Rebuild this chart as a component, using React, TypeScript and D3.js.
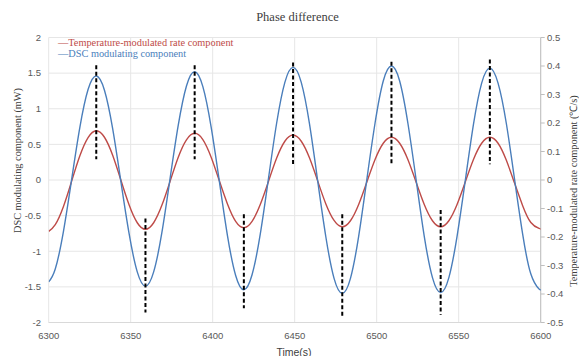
import React from "react";
import * as d3 from "d3";

// Time (s)
const times = [
  6300, 6304, 6309, 6314, 6319, 6324, 6329,
  6334, 6339, 6344, 6349, 6354, 6359,
  6364, 6369, 6374, 6379, 6384, 6389,
  6394, 6399, 6404, 6409, 6414, 6419,
  6424, 6429, 6434, 6439, 6444, 6449,
  6454, 6459, 6464, 6469, 6474, 6479,
  6484, 6489, 6494, 6499, 6504, 6509,
  6514, 6519, 6524, 6529, 6534, 6539,
  6544, 6549, 6554, 6559, 6564, 6569,
  6574, 6579, 6584, 6589, 6594, 6599, 6600,
];

// DSC modulating component (mW), left axis
const dscValues = [
  -1.43, -1.25, -0.72, 0.01, 0.74, 1.27, 1.46,
  1.26, 0.72, -0.02, -0.75, -1.29, -1.49,
  -1.29, -0.74, 0.02, 0.77, 1.32, 1.52,
  1.31, 0.75, -0.01, -0.78, -1.34, -1.54,
  -1.33, -0.76, 0.02, 0.8, 1.37, 1.58,
  1.37, 0.79, -0.01, -0.8, -1.38, -1.59,
  -1.38, -0.79, 0.01, 0.8, 1.39, 1.6,
  1.39, 0.8, 0.01, -0.79, -1.37, -1.58,
  -1.37, -0.79, -0.01, 0.78, 1.36, 1.57,
  1.36, 0.8, 0.02, -0.76, -1.32, -1.53, -1.53,
];

// Temperature-modulated rate component (°C/s), right axis
const rateValues = [
  -0.18, -0.157, -0.093, -0.004, 0.085, 0.149, 0.173,
  0.15, 0.087, 0.0, -0.087, -0.15, -0.173,
  -0.15, -0.089, -0.005, 0.08, 0.141, 0.164,
  0.142, 0.081, -0.002, -0.084, -0.145, -0.167,
  -0.145, -0.086, -0.005, 0.077, 0.136, 0.158,
  0.136, 0.078, -0.003, -0.084, -0.142, -0.164,
  -0.143, -0.086, -0.007, 0.072, 0.129, 0.15,
  0.129, 0.072, -0.007, -0.086, -0.143, -0.164,
  -0.143, -0.086, -0.007, 0.072, 0.129, 0.15,
  0.129, 0.07, -0.01, -0.09, -0.149, -0.17, -0.17,
];

// Dashed marker lines (time, top and bottom in mW)
const markTimes = [6329, 6359, 6389, 6419, 6449, 6479, 6509, 6539, 6569];
const markTop = [1.61, -0.54, 1.61, -0.48, 1.65, -0.48, 1.66, -0.42, 1.69];
const markBottom = [0.29, -1.86, 0.29, -1.8, 0.19, -1.94, 0.2, -1.89, 0.22];

const xTicks = [6300, 6350, 6400, 6450, 6500, 6550, 6600];
const leftTicks = [2, 1.5, 1, 0.5, 0, -0.5, -1, -1.5, -2];
const rightTicks = [0.5, 0.4, 0.3, 0.2, 0.1, 0, -0.1, -0.2, -0.3, -0.4, -0.5];

const titleText = "Phase difference";
const legendLabels = ["Temperature-modulated rate component", "DSC modulating component"];
const leftLabel = "DSC modulating component (mW)";
const rightLabel = "Temperature-modulated rate component (\u2103/s)";
const xLabel = "Time(s)";

export default function App() {
  const W = 579;
  const H = 356;
  const left = 48.7;
  const right = 540.7;
  const top = 37.5;
  const bottom = 322.5;

  const x = d3.scaleLinear().domain([6300, 6600]).range([left, right]);
  const yL = d3.scaleLinear().domain([-2, 2]).range([bottom, top]);
  const yR = d3.scaleLinear().domain([-0.5, 0.5]).range([bottom, top]);

  const blueLine = d3
    .line<number>()
    .x((_, i) => x(times[i]))
    .y((d) => yL(d))
    .curve(d3.curveNatural);
  const redLine = d3
    .line<number>()
    .x((_, i) => x(times[i]))
    .y((d) => yR(d))
    .curve(d3.curveNatural);

  const red = "#BE4B48";
  const blue = "#4A7EBB";
  const grid = "#E6E6E6";
  const tickColor = "#595959";
  const sans = "'Liberation Sans', Arial, sans-serif";
  const serif = "'Liberation Serif', 'Times New Roman', serif";

  const fmt = (v: number) => (v === 0 ? "0" : String(v));

  return (
    <svg
      width={W}
      height={H}
      style={{ position: "absolute", left: 0, top: 0, background: "#fff" }}
    >
      <defs>
        <clipPath id="plot">
          <rect x={left} y={top - 10} width={right - left} height={bottom - top + 20} />
        </clipPath>
      </defs>
      <rect x={0} y={0} width={W} height={H} fill="#fff" />
      {/* gridlines */}
      {leftTicks.map((t) => (
        <line key={"h" + t} x1={left} x2={right} y1={yL(t)} y2={yL(t)} stroke={grid} strokeWidth={1} />
      ))}
      {xTicks.map((t) => (
        <line key={"v" + t} x1={x(t)} x2={x(t)} y1={top} y2={bottom} stroke={grid} strokeWidth={1} />
      ))}
      {/* bottom axis line */}
      <line x1={left} x2={right} y1={bottom} y2={bottom} stroke="#D9D9D9" strokeWidth={1} />
      {/* right axis */}
      <line x1={right} x2={right} y1={top} y2={bottom} stroke="#BFBFBF" strokeWidth={1} />
      {rightTicks.map((t) => (
        <line key={"rt" + t} x1={right} x2={right + 4} y1={yR(t)} y2={yR(t)} stroke="#BFBFBF" strokeWidth={1} />
      ))}

      {/* series */}
      <g clipPath="url(#plot)">
        <path d={redLine(rateValues) || ""} fill="none" stroke={red} strokeWidth={1.4} />
        <path d={blueLine(dscValues) || ""} fill="none" stroke={blue} strokeWidth={1.4} />
      </g>

      {/* dashed markers */}
      {markTimes.map((t, i) => (
        <line
          key={"m" + t}
          x1={x(t)}
          x2={x(t)}
          y1={yL(markTop[i])}
          y2={yL(markBottom[i])}
          stroke="#000"
          strokeWidth={2}
          strokeDasharray="4,2.5"
        />
      ))}

      {/* left tick labels */}
      {leftTicks.map((t) => (
        <text key={"lt" + t} x={41} y={yL(t) + 3.3} textAnchor="end" fontFamily={sans} fontSize={9.5} fill={tickColor}>
          {fmt(t)}
        </text>
      ))}
      {/* right tick labels */}
      {rightTicks.map((t) => (
        <text key={"rl" + t} x={547} y={yR(t) + 3.3} textAnchor="start" fontFamily={sans} fontSize={9.5} fill={tickColor}>
          {fmt(t)}
        </text>
      ))}
      {/* x tick labels */}
      {xTicks.map((t) => (
        <text key={"xl" + t} x={x(t)} y={339} textAnchor="middle" fontFamily={sans} fontSize={9.5} fill={tickColor}>
          {t}
        </text>
      ))}

      {/* title */}
      <text x={297.5} y={21} textAnchor="middle" fontFamily={serif} fontSize={12.5} fill="#404040">
        {titleText}
      </text>

      {/* legend */}
      <text x={58} y={46.3} fontFamily={serif} fontSize={10.3} fill={red}>
        {"\u2014" + legendLabels[0]}
      </text>
      <text x={58} y={57} fontFamily={serif} fontSize={10.3} fill={blue}>
        {"\u2014" + legendLabels[1]}
      </text>

      {/* axis titles */}
      <text
        transform={`translate(20.5,160.5) rotate(-90)`}
        textAnchor="middle"
        fontFamily={serif}
        fontSize={10.3}
        fill="#404040"
      >
        {leftLabel}
      </text>
      <text
        transform={`translate(577,191) rotate(-90)`}
        textAnchor="middle"
        fontFamily={serif}
        fontSize={10.3}
        fill="#404040"
      >
        {rightLabel}
      </text>
      <text x={294} y={355.5} textAnchor="middle" fontFamily={sans} fontSize={10.5} fill="#404040">
        {xLabel}
      </text>
    </svg>
  );
}
